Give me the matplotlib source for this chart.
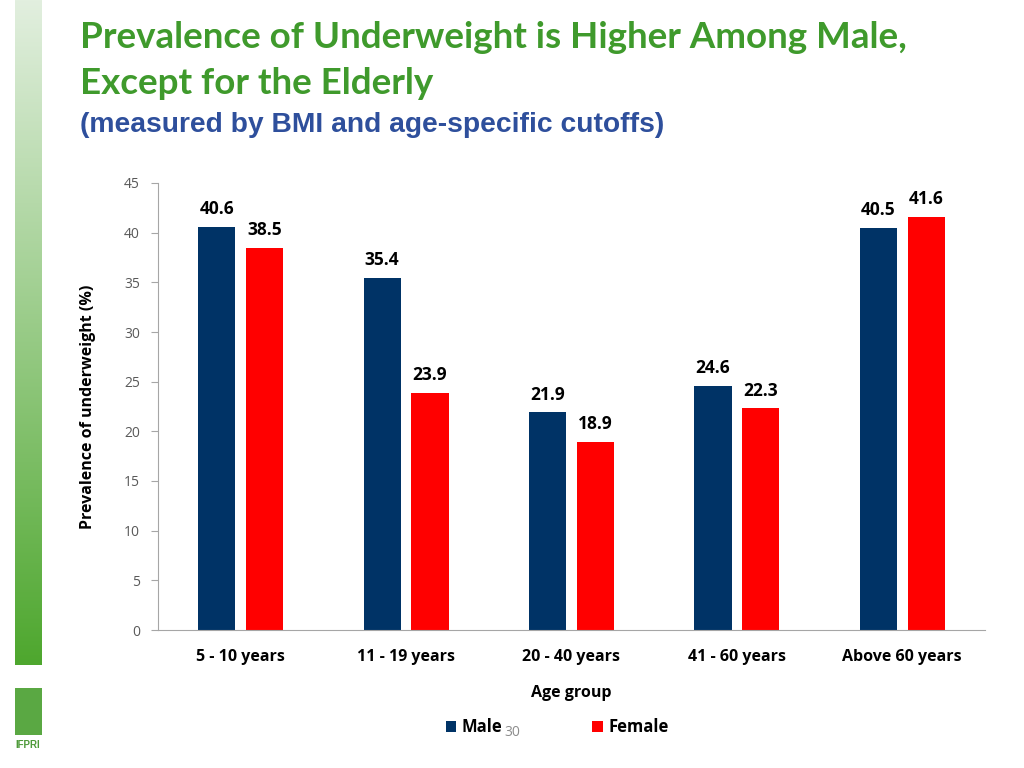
import matplotlib
matplotlib.use("Agg")
import matplotlib.pyplot as plt
import numpy as np
from matplotlib.patches import Rectangle
from matplotlib.colors import LinearSegmentedColormap

categories = ["5 - 10 years", "11 - 19 years", "20 - 40 years", "41 - 60 years", "Above 60 years"]
male = [40.6, 35.4, 21.9, 24.6, 40.5]
female = [38.5, 23.9, 18.9, 22.3, 41.6]
yticks = [0, 5, 10, 15, 20, 25, 30, 35, 40, 45]

fig = plt.figure(figsize=(10.24, 7.68), dpi=100)

# left gradient strip
strip = fig.add_axes([15/1024, 1-665/768, 27/1024, 665/768])
grad = np.linspace(0, 1, 256).reshape(-1, 1)
cmap = LinearSegmentedColormap.from_list("g", ["#e2efdf", "#4ea72e"])
strip.imshow(grad, aspect="auto", cmap=cmap, extent=[0, 1, 1, 0])
strip.axis("off")

# logo approximation
logo = fig.add_axes([15/1024, 1-735/768, 27/1024, 47/768])
logo.add_patch(Rectangle((0, 0), 1, 1, color="#5aa843"))
logo.set_xlim(0, 1); logo.set_ylim(0, 1); logo.axis("off")
fig.text(28/1024, 1-745/768, "IFPRI", ha="center", va="center", fontsize=7,
         color="#4e9a3a", family="Liberation Sans", fontweight="bold")

# titles
fig.text(80/1024, 1-38/768, "Prevalence of Underweight is Higher Among Male,", fontsize=26.5,
         fontweight="bold", color="#3f9a2c", family="Lato", va="center")
fig.text(80/1024, 1-84/768, "Except for the Elderly", fontsize=26.5,
         fontweight="bold", color="#3f9a2c", family="Lato", va="center")
fig.text(80/1024, 1-125/768, "(measured by BMI and age-specific cutoffs)", fontsize=20.3,
         fontweight="bold", color="#2e4f9c", family="Liberation Sans", va="center")

ax = fig.add_axes([158/1024, 1-630/768, 827/1024, 447/768])
x = np.arange(len(categories))
w = 0.225
off = 0.145
ax.bar(x - off, male, w, color="#003366", label="Male")
ax.bar(x + off, female, w, color="#ff0000", label="Female")

for xi, v in zip(x, male):
    ax.text(xi - off, v + 0.9, f"{v}", ha="center", va="bottom", fontsize=12.5,
            fontweight="bold", family="Open Sans")
for xi, v in zip(x, female):
    ax.text(xi + off, v + 0.9, f"{v}", ha="center", va="bottom", fontsize=12.5,
            fontweight="bold", family="Open Sans")

ax.set_xlim(-0.5, len(categories) - 0.5)
ax.set_ylim(0, 45)
ax.set_yticks(yticks)
ax.set_yticklabels([str(t) for t in yticks], color="#595959", fontsize=10, family="Open Sans")
ax.set_xticks(x)
ax.set_xticklabels(categories, fontsize=11.5, fontweight="bold", family="Open Sans")
ax.tick_params(axis="x", length=0, pad=14)
ax.tick_params(axis="y", length=5, color="#a6a6a6", pad=8)
for s in ["top", "right"]:
    ax.spines[s].set_visible(False)
ax.spines["left"].set_color("#a6a6a6")
ax.spines["bottom"].set_color("#a6a6a6")

ax.set_xlabel("Age group", fontsize=11.5, fontweight="bold", family="Open Sans", labelpad=14)
ax.set_ylabel("Prevalence of underweight (%)", fontsize=11.5, fontweight="bold",
              family="Open Sans", labelpad=20)

leg = fig.legend(loc="center", bbox_to_anchor=(557/1024, 1-727/768), ncol=2, frameon=False,
                 handlelength=0.65, handleheight=0.65, handletextpad=0.3, columnspacing=5.4,
                 prop={"family": "Open Sans", "weight": "bold", "size": 12})

fig.text(512/1024, 1-733/768, "30", fontsize=10, color="#8c8c8c", ha="center", va="center",
         family="Open Sans")

fig.savefig("out.png", dpi=100)
